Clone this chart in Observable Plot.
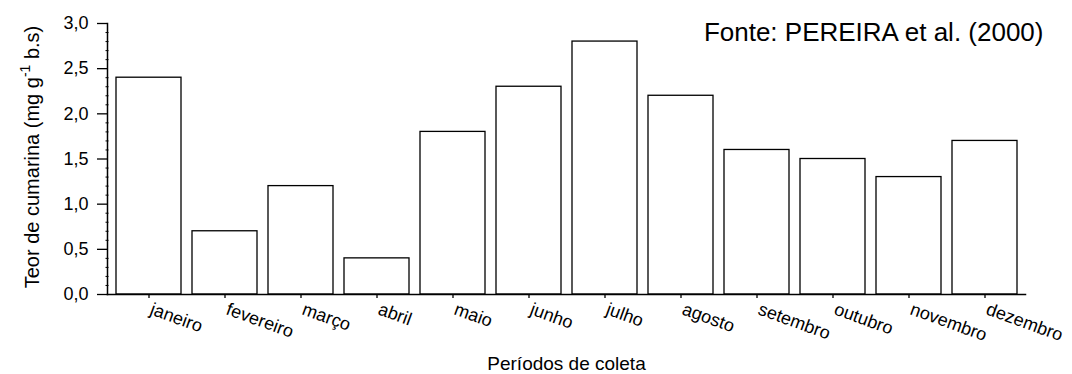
<!DOCTYPE html>
<html><head><meta charset="utf-8">
<script src="https://cdn.jsdelivr.net/npm/d3@7"></script>
<script src="https://cdn.jsdelivr.net/npm/@observablehq/plot@0.6"></script>
<style>body{margin:0;background:#fff}</style>
</head><body><div id="chart"></div>
<script>
const months = ["janeiro","fevereiro","março","abril","maio","junho","julho","agosto","setembro","outubro","novembro","dezembro"];
const coumarin = [2.4, 0.7, 1.2, 0.4, 1.8, 2.3, 2.8, 2.2, 1.6, 1.5, 1.3, 1.7];
const yTicks = [0, 0.5, 1.0, 1.5, 2.0, 2.5, 3.0];
const yMinorTicks = [0.1,0.2,0.3,0.4,0.6,0.7,0.8,0.9,1.1,1.2,1.3,1.4,1.6,1.7,1.8,1.9,2.1,2.2,2.3,2.4,2.6,2.7,2.8,2.9];
const xLabel = "Períodos de coleta";
const yLabelMain = "Teor de cumarina (mg g";
const yLabelSup = "-1";
const yLabelEnd = " b.s)";
const sourceNote = "Fonte: PEREIRA et al. (2000)";

const data = months.map((m, i) => ({month: m, value: coumarin[i]}));
const fmt = d => d.toFixed(1).replace(".", ",");
const FONT = "'Liberation Sans', Arial, sans-serif";

const chart = Plot.plot({
  width: 1072, height: 374,
  marginLeft: 107, marginRight: 47, marginTop: 23, marginBottom: 80,
  style: {fontFamily: FONT, fontSize: "18px", color: "#000", background: "#fff", overflow: "visible"},
  x: {domain: months, paddingInner: 0.15, paddingOuter: 0.075, align: 0.5},
  y: {domain: [0, 3]},
  marks: [
    Plot.barY(data, {x: "month", y: "value", fill: "white", stroke: "#000", strokeWidth: 1.3}),
    Plot.axisY({ticks: yMinorTicks, tickSize: 3, dx: 1.5, tickFormat: () => "", label: null, strokeWidth: 1}),
    Plot.axisY({ticks: yTicks, tickSize: 10, tickPadding: 9, tickFormat: fmt, label: null, fontSize: 18, strokeWidth: 1.3}),
    Plot.axisX({tickSize: 4, label: null, strokeWidth: 1.3, tickFormat: () => ""}),
    Plot.axisX({tickSize: 0, tickRotate: 20, tickPadding: 14, dx: 2, label: null, fontSize: 18}),
    Plot.frame({anchor: "left", strokeWidth: 1.5}),
    Plot.frame({anchor: "bottom", strokeWidth: 1.5}),
    Plot.text([xLabel], {frameAnchor: "bottom", lineAnchor: "bottom", dy: 75, fontSize: 19}),
    Plot.text([sourceNote], {frameAnchor: "top-right", textAnchor: "end", lineAnchor: "top", dx: 18, dy: -1, fontSize: 26})
  ]
});

const svg = d3.select(chart);
const t = svg.append("text")
  .attr("transform", "translate(39,157) rotate(-90)")
  .attr("text-anchor", "middle")
  .attr("font-family", FONT)
  .attr("font-size", 20)
  .attr("fill", "#000");
t.append("tspan").text(yLabelMain);
t.append("tspan").attr("dy", -9).attr("font-size", 14).text(yLabelSup);
t.append("tspan").attr("dy", 9).text(yLabelEnd);

document.getElementById("chart").appendChild(chart);
</script>
</body></html>
